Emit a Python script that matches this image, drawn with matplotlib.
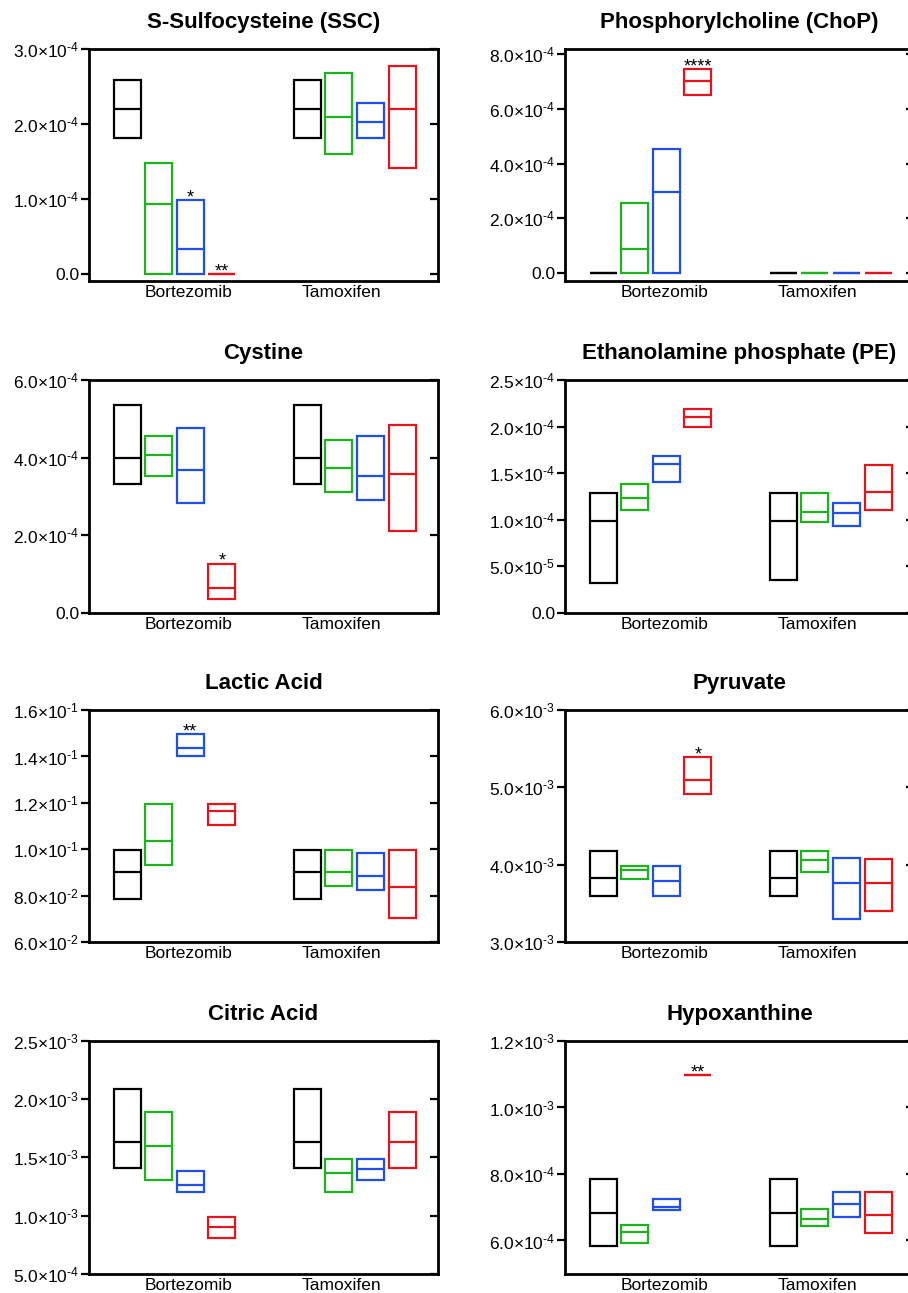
import matplotlib
matplotlib.use("Agg")
import matplotlib.pyplot as plt
import numpy as np

plt.rcParams['font.family'] = ['Liberation Sans', 'DejaVu Sans']
plt.rcParams['mathtext.fontset'] = 'custom'
plt.rcParams['mathtext.rm'] = 'Liberation Sans'
plt.rcParams['mathtext.it'] = 'Liberation Sans:italic'
plt.rcParams['mathtext.bf'] = 'Liberation Sans:bold'

# ---------------- data ----------------
groups = ["Bortezomib", "Tamoxifen"]
colors = ["#000000", "#1db31d", "#1f4fe8", "#e3141b"]

titles = ["S-Sulfocysteine (SSC)", "Phosphorylcholine (ChoP)",
          "Cystine", "Ethanolamine phosphate (PE)",
          "Lactic Acid", "Pyruvate",
          "Citric Acid", "Hypoxanthine"]

# each: [Bortezomib series x4, Tamoxifen series x4] -> (min, max, median)
ssc_min = [1.818e-4, 0.01e-4, 0.01e-4, 0.0, 1.818e-4, 1.609e-4, 1.818e-4, 1.413e-4]
ssc_max = [2.587e-4, 1.484e-4, 0.987e-4, 0.0, 2.587e-4, 2.684e-4, 2.289e-4, 2.782e-4]
ssc_med = [2.205e-4, 0.933e-4, 0.338e-4, 0.0, 2.205e-4, 2.097e-4, 2.027e-4, 2.205e-4]

chop_min = [0.0, 0.02e-4, 0.02e-4, 6.50e-4, 0.0, 0.0, 0.0, 0.0]
chop_max = [0.0, 2.56e-4, 4.54e-4, 7.43e-4, 0.0, 0.0, 0.0, 0.0]
chop_med = [0.0, 0.874e-4, 2.95e-4, 7.01e-4, 0.0, 0.0, 0.0, 0.0]

cys_min = [3.32e-4, 3.52e-4, 2.82e-4, 0.35e-4, 3.32e-4, 3.12e-4, 2.91e-4, 2.12e-4]
cys_max = [5.35e-4, 4.56e-4, 4.76e-4, 1.26e-4, 5.35e-4, 4.46e-4, 4.56e-4, 4.85e-4]
cys_med = [4.00e-4, 4.06e-4, 3.69e-4, 0.65e-4, 4.00e-4, 3.73e-4, 3.53e-4, 3.59e-4]

pe_min = [0.323e-4, 1.107e-4, 1.405e-4, 2.00e-4, 0.352e-4, 0.977e-4, 0.938e-4, 1.107e-4]
pe_max = [1.287e-4, 1.384e-4, 1.689e-4, 2.19e-4, 1.287e-4, 1.287e-4, 1.185e-4, 1.588e-4]
pe_med = [0.988e-4, 1.233e-4, 1.602e-4, 2.10e-4, 0.990e-4, 1.088e-4, 1.074e-4, 1.30e-4]

lac_min = [0.0785, 0.0933, 0.1402, 0.1104, 0.0785, 0.0844, 0.0824, 0.0705]
lac_max = [0.0996, 0.1195, 0.1495, 0.1195, 0.0996, 0.0996, 0.0986, 0.0996]
lac_med = [0.0901, 0.1038, 0.1435, 0.1165, 0.0901, 0.0901, 0.0886, 0.0838]

pyr_min = [3.603e-3, 3.814e-3, 3.603e-3, 4.911e-3, 3.603e-3, 3.908e-3, 3.306e-3, 3.405e-3]
pyr_max = [4.184e-3, 3.986e-3, 3.986e-3, 5.389e-3, 4.184e-3, 4.184e-3, 4.085e-3, 4.080e-3]
pyr_med = [3.835e-3, 3.934e-3, 3.792e-3, 5.101e-3, 3.835e-3, 4.063e-3, 3.762e-3, 3.762e-3]

cit_min = [1.405e-3, 1.305e-3, 1.205e-3, 0.807e-3, 1.405e-3, 1.205e-3, 1.305e-3, 1.405e-3]
cit_max = [2.087e-3, 1.887e-3, 1.385e-3, 0.990e-3, 2.087e-3, 1.486e-3, 1.486e-3, 1.887e-3]
cit_med = [1.635e-3, 1.597e-3, 1.259e-3, 0.901e-3, 1.635e-3, 1.362e-3, 1.397e-3, 1.629e-3]

hyp_min = [5.84e-4, 5.92e-4, 6.92e-4, 10.98e-4, 5.84e-4, 6.42e-4, 6.72e-4, 6.21e-4]
hyp_max = [7.853e-4, 6.46e-4, 7.26e-4, 10.98e-4, 7.853e-4, 6.96e-4, 7.46e-4, 7.46e-4]
hyp_med = [6.82e-4, 6.24e-4, 7.02e-4, 10.98e-4, 6.82e-4, 6.66e-4, 7.09e-4, 6.76e-4]

# significance labels (index of box -> text)
ssc_sig = {2: "*", 3: "**"}
chop_sig = {3: "****"}
cys_sig = {3: "*"}
pe_sig = {}
lac_sig = {2: "**"}
pyr_sig = {3: "*"}
cit_sig = {}
hyp_sig = {3: "**"}

ylims = [(-0.09e-4, 3.0e-4), (-0.28e-4, 8.16e-4), (0, 6e-4), (0, 2.5e-4),
         (0.06, 0.16), (3e-3, 6e-3), (5e-4, 2.5e-3), (5e-4, 1.2e-3)]
yticks = [[0, 1e-4, 2e-4, 3e-4], [0, 2e-4, 4e-4, 6e-4, 8e-4],
          [0, 2e-4, 4e-4, 6e-4], [0, 5e-5, 1e-4, 1.5e-4, 2e-4, 2.5e-4],
          [0.06, 0.08, 0.10, 0.12, 0.14, 0.16], [3e-3, 4e-3, 5e-3, 6e-3],
          [5e-4, 1e-3, 1.5e-3, 2e-3, 2.5e-3], [6e-4, 8e-4, 1e-3, 1.2e-3]]

panels = [
    (ssc_min, ssc_max, ssc_med, ssc_sig),
    (chop_min, chop_max, chop_med, chop_sig),
    (cys_min, cys_max, cys_med, cys_sig),
    (pe_min, pe_max, pe_med, pe_sig),
    (lac_min, lac_max, lac_med, lac_sig),
    (pyr_min, pyr_max, pyr_med, pyr_sig),
    (cit_min, cit_max, cit_med, cit_sig),
    (hyp_min, hyp_max, hyp_med, hyp_sig),
]

# ---------------- layout ----------------
W, H = 908, 1293
fig = plt.figure(figsize=(W / 100, H / 100), dpi=100)

col_x = [89, 565]
ax_w = 349
rows = [(49.3, 281.0), (380.3, 612.7), (710.0, 942.3), (1041.0, 1273.7)]

box_pos = [1, 2, 3, 4, 6.71, 7.71, 8.71, 9.71]
box_w = 0.856
label_pos = [2.93, 7.78]

HYPH = "\u2010"


def fmt(v):
    if v == 0:
        return "0.0"
    e = int(np.floor(np.log10(abs(v)) + 1e-9))
    m = v / 10 ** e
    return "$%.1f{\\times}10^{%s%d}$" % (m, HYPH, -e)


for i, (mn, mx, md, sig) in enumerate(panels):
    r, c = divmod(i, 2)
    top, bot = rows[r]
    rect = [col_x[c] / W, 1 - bot / H, ax_w / W, (bot - top) / H]
    ax = fig.add_axes(rect)
    for k in range(8):
        col = colors[k % 4]
        ax.bar(box_pos[k], mx[k] - mn[k], bottom=mn[k], width=box_w,
               fill=False, edgecolor=col, linewidth=1.6, zorder=3)
        ax.hlines(md[k], box_pos[k] - box_w / 2, box_pos[k] + box_w / 2,
                  color=col, linewidth=1.6, zorder=3)
    for k, s in sig.items():
        ax.annotate(s, (box_pos[k], mx[k]), xytext=(0, -1.5),
                    textcoords="offset points", ha="center", va="baseline",
                    fontsize=13)
    ax.set_xlim(-0.21, 10.85)
    ax.set_ylim(*ylims[i])
    ax.set_yticks(yticks[i])
    ax.set_yticklabels([fmt(v) for v in yticks[i]], fontsize=12.5)
    ax.set_xticks(label_pos)
    ax.set_xticklabels(groups, fontsize=12.5)
    ax.tick_params(axis="x", length=0, pad=3)
    ax.tick_params(axis="y", left=True, right=False,
                   direction="out", length=6, width=1.6, pad=1)
    for sp in ax.spines.values():
        sp.set_linewidth(2.0)
    ax.set_title(titles[i], fontsize=16, fontweight="bold", pad=15)
    # inward ticks on the right spine
    ax2 = ax.twinx()
    ax2.set_ylim(*ylims[i])
    ax2.set_yticks(yticks[i])
    ax2.tick_params(axis="y", direction="in", length=6, width=1.6,
                    labelright=False)
    for sp in ax2.spines.values():
        sp.set_visible(False)

fig.savefig("out.png", dpi=100)
